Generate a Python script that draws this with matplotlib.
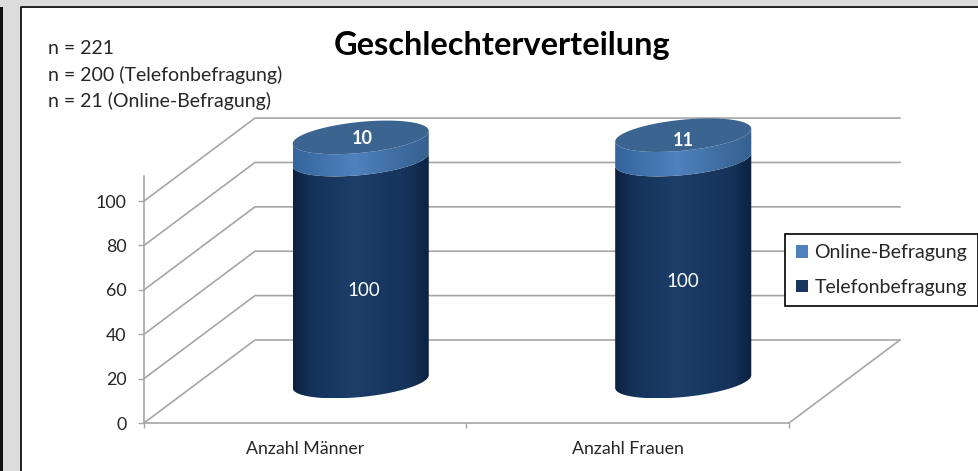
"""
Geschlechterverteilung - 3D style stacked cylinder chart
"""

import numpy as np
import matplotlib
matplotlib.use("Agg")
import matplotlib.pyplot as plt
from matplotlib.colors import LinearSegmentedColormap
from matplotlib.lines import Line2D
from matplotlib.patches import Patch, Polygon, Rectangle

plt.rcParams['font.family'] = ['Lato', 'DejaVu Sans']

# Data
kategorien = ["Anzahl Männer", "Anzahl Frauen"]
telefon = [100, 100]
online = [10, 11]
y_ticks = [0, 20, 40, 60, 80, 100]
stichprobe = ["n = 221", "n = 200 (Telefonbefragung)", "n = 21 (Online-Befragung)"]

W, H = 979, 471
DARK = "#17375e"
LIGHT = "#4f81bd"
TEXT = "#262626"
GRID = "#a6a6a6"

# Depth of the floor in data units (x categories, y values)
DEPTH_X = 0.344
DEPTH_Y = 37.4

# Cylinder shape in data units
CYL_A = 0.211
CYL_B = 7.0
CYL_S = 2.9

# Horizontal shading of the cylinder sides
DARK_SHADE = [(0, "#0b2140"), (0.14, "#15335a"), (0.45, "#1c3e69"), (0.85, "#15335a"), (1, "#0b2140")]
LIGHT_SHADE = [(0, "#35659c"), (0.45, LIGHT), (1, "#35608f")]


def project(x, v, d):
    """Map category position, value and depth (0 front, 1 back) to axes data"""
    return x + DEPTH_X * d, v + DEPTH_Y * d


def ellipse(cx, cy, start=0.0, stop=2 * np.pi):
    t = np.linspace(start, stop, 80)
    return np.column_stack([
        cx + CYL_A * np.cos(t),
        cy + CYL_B * np.sin(t) + CYL_S * np.cos(t),
    ])


def draw_segment(ax, fig, x, v0, v1, colors):
    """Side of one stacked cylinder segment with a horizontal gradient"""
    cx, cy0 = project(x, v0, 0.5)
    _, cy1 = project(x, v1, 0.5)
    front0 = ellipse(cx, cy0, np.pi, 2 * np.pi)
    front1 = ellipse(cx, cy1, np.pi, 2 * np.pi)[::-1]
    side = Polygon(np.vstack([front0, front1]), closed=True, fc="none", ec="none",
                   transform=ax.transData)
    ax.add_patch(side)

    cmap = LinearSegmentedColormap.from_list("seg", colors)
    grad = np.linspace(0, 1, 128).reshape(1, -1)
    low = min(front0[:, 1].min(), front1[:, 1].min())
    high = max(front0[:, 1].max(), front1[:, 1].max())
    im = ax.imshow(grad, cmap=cmap, aspect="auto", zorder=3,
                   extent=(cx - CYL_A, cx + CYL_A, low, high))
    im.set_clip_box(fig.bbox)
    im.set_clip_path(side)


def main():
    fig = plt.figure(figsize=(W / 100, H / 100), dpi=100, facecolor="#dcdcdc")

    # Surrounding screenshot frame
    fig.add_artist(Rectangle((0, 0), 3 / W, 1 - 7 / H, transform=fig.transFigure,
                             fc="#111111", ec="none", zorder=-2))
    fig.add_artist(Rectangle((21 / W, 0), 1 - 21 / W, 1 - 6 / H, transform=fig.transFigure,
                             fc="white", ec="none", zorder=-2))
    fig.add_artist(Line2D([21.5 / W, 21.5 / W, 1], [0, 1 - 6.5 / H, 1 - 6.5 / H],
                          transform=fig.transFigure, color="#111111", lw=1.3, zorder=-1))

    ax = fig.add_axes([144 / W, 1 - 423 / H, 645 / W, 247 / H])
    ax.patch.set_alpha(0)

    # Walls and floor
    for v in y_ticks:
        xs, ys = zip(project(0, v, 0), project(0, v, 1), project(2, v, 1))
        ax.plot(xs, ys, color=GRID, lw=1.2, clip_on=False, zorder=1)
    xs, ys = zip(project(2, 0, 0), project(2, 0, 1))
    ax.plot(xs, ys, color=GRID, lw=1.2, clip_on=False, zorder=1)

    # Cylinders
    for i in range(len(kategorien)):
        x = i + 0.5
        total = telefon[i] + online[i]
        draw_segment(ax, fig, x, 0, telefon[i], DARK_SHADE)
        draw_segment(ax, fig, x, telefon[i], total, LIGHT_SHADE)
        cx, cy = project(x, total, 0.5)
        ax.add_patch(Polygon(ellipse(cx, cy), closed=True, fc="#3c6490", ec="none",
                             clip_on=False, zorder=4))

    # Value labels
    mitte_nudge = [-8.8, -4.9]
    oben_nudge = [-0.4, -2.4]
    for i in range(len(kategorien)):
        x = i + 0.5
        cx, cy = project(x, telefon[i] / 2, 0.5)
        ax.text(cx + (0.01 if i == 0 else 0), cy + mitte_nudge[i], str(telefon[i]),
                color="white", ha="center", va="center", fontsize=13.5, zorder=5)
        cx, cy = project(x, telefon[i] + online[i], 0.5)
        ax.text(cx + (0.006 if i == 0 else 0), cy + oben_nudge[i], str(online[i]), color="white",
                ha="center", va="center", fontsize=13, fontweight="bold", zorder=5, clip_on=False)

    # Axes
    ax.set_xlim(0, 2)
    ax.set_ylim(0, 111.3)
    ax.set_yticks(y_ticks)
    ax.set_xticks([0, 1, 2])
    ax.set_xticklabels([])
    ax.set_xticks([0.5, 1.5], labels=kategorien, minor=True)
    ax.tick_params(axis="x", which="minor", length=0, pad=13, labelsize=12.8, labelcolor=TEXT)
    ax.tick_params(axis="x", which="major", length=3.5, width=1, color=GRID)
    ax.tick_params(axis="y", length=4.5, width=1, color=GRID, pad=8, labelsize=12.8, labelcolor=TEXT)
    for side in ["top", "right"]:
        ax.spines[side].set_visible(False)
    for side in ["left", "bottom"]:
        ax.spines[side].set_color(GRID)
        ax.spines[side].set_linewidth(1.2)

    # Title and sample sizes
    fig.text(502.5 / W, 1 - 45 / H, "Geschlechterverteilung", ha="center", va="center",
             fontsize=23.4, fontweight="bold", color="black")
    for text, py in zip(stichprobe, [48, 75, 101]):
        fig.text(48 / W, 1 - py / H, text, ha="left", va="center", fontsize=14, color=TEXT)

    # Legend
    handles = [Patch(fc=LIGHT, label="Online-Befragung"), Patch(fc=DARK, label="Telefonbefragung")]
    leg = fig.legend(handles=handles, loc="center", bbox_to_anchor=(881.5 / W, 1 - 270 / H),
                     fontsize=14, frameon=True, fancybox=False, framealpha=1, edgecolor="black",
                     handlelength=0.6, handleheight=0.6, handletextpad=0.35, labelspacing=0.9,
                     borderpad=0.55, labelcolor=TEXT)
    leg.get_frame().set_linewidth(1.2)
    leg.set_zorder(10)

    fig.savefig("out.png", dpi=100, facecolor=fig.get_facecolor())


if __name__ == "__main__":
    main()
